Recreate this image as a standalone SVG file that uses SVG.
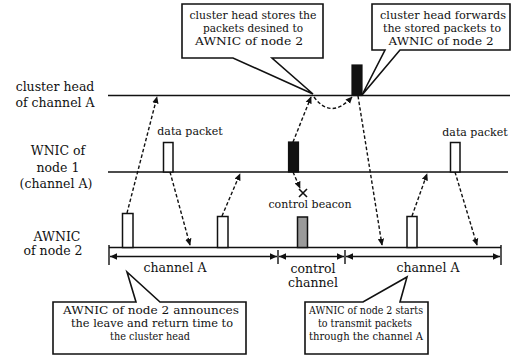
<svg xmlns="http://www.w3.org/2000/svg" width="519" height="358" viewBox="0 0 519 358">
<style>
text{font-family:"DejaVu Serif","Liberation Serif",serif;fill:#111}
.lab{font-size:12.5px;text-anchor:middle}
.cal{font-size:11px;text-anchor:middle}
.sm{font-size:11px;text-anchor:middle}
.axis{stroke:#111;stroke-width:1.6;fill:none}
.dash{stroke:#111;stroke-width:1.4;stroke-dasharray:3.5 2.2;fill:none}
.pk{fill:#fff;stroke:#111;stroke-width:1.5}
.pkb{fill:#111;stroke:#111;stroke-width:1.2}
.box{fill:#fff;stroke:#111;stroke-width:1.6}
.tl{stroke:#111;stroke-width:1.4;fill:none}
</style>
<defs>
<marker id="ah" viewBox="0 0 10 10" refX="9" refY="5" markerWidth="7" markerHeight="7" markerUnits="userSpaceOnUse" orient="auto">
<path d="M0,0.5 L10,5 L0,9.5 z" fill="#111"/>
</marker>
<marker id="ah2" viewBox="0 0 10 10" refX="10" refY="5" markerWidth="8" markerHeight="7" markerUnits="userSpaceOnUse" orient="auto-start-reverse">
<path d="M0,0.5 L10,5 L0,9.5 z" fill="#111"/>
</marker>
</defs>

<g id="labels">
<text class="lab" x="55" y="91">cluster head</text>
<text class="lab" x="55" y="107">of channel A</text>
<text class="lab" x="58" y="155">WNIC of</text>
<text class="lab" x="58" y="172">node 1</text>
<text class="lab" x="56" y="188">(channel A)</text>
<text class="lab" x="57" y="241">AWNIC</text>
<text class="lab" x="53" y="255">of node 2</text>
</g>

<g id="axes">
<line class="axis" x1="108" y1="95.5" x2="510" y2="95.5"/>
<line class="axis" x1="108" y1="172" x2="508" y2="172"/>
<line class="axis" x1="109" y1="247.5" x2="501" y2="247.5"/>
</g>

<g id="timeline">
<line class="tl" x1="109" y1="245" x2="109" y2="265"/>
<line class="tl" x1="278" y1="250" x2="278" y2="264"/>
<line class="tl" x1="345" y1="250" x2="345" y2="264"/>
<line class="tl" x1="501" y1="245" x2="501" y2="265"/>
<line class="tl" x1="110" y1="256.5" x2="277" y2="256.5" marker-start="url(#ah2)" marker-end="url(#ah2)"/>
<line class="tl" x1="279" y1="256.5" x2="344" y2="256.5" marker-start="url(#ah2)" marker-end="url(#ah2)"/>
<line class="tl" x1="346" y1="256.5" x2="500" y2="256.5" marker-start="url(#ah2)" marker-end="url(#ah2)"/>
<text class="lab" x="175" y="272">channel A</text>
<text class="lab" x="313" y="273">control</text>
<text class="lab" x="313" y="287">channel</text>
<text class="lab" x="428" y="272">channel A</text>
</g>

<g id="packets">
<rect class="pkb" x="352" y="65" width="10" height="30.5"/>
<rect class="pk" x="163.5" y="142.5" width="9.5" height="29.5"/>
<rect class="pkb" x="288.5" y="142" width="10" height="30"/>
<rect class="pk" x="450.5" y="142.5" width="9.5" height="29.5"/>
<rect class="pk" x="122.5" y="213.5" width="10.5" height="34"/>
<rect class="pk" x="217.5" y="216.5" width="10.5" height="31"/>
<rect x="297.5" y="217" width="10" height="30.5" fill="#9a9a9a" stroke="#111" stroke-width="1.5"/>
<rect class="pk" x="407" y="216.5" width="10" height="31"/>
<text class="sm" x="190" y="135">data packet</text>
<text class="sm" x="475" y="136">data packet</text>
<text class="sm" x="310" y="208">control beacon</text>
<path d="M299,189 L307,197 M307,189 L299,197" stroke="#111" stroke-width="1.6"/>
</g>

<g id="connectors">
<line class="dash" x1="127" y1="213" x2="157" y2="97" marker-end="url(#ah)"/>
<line class="dash" x1="170" y1="172" x2="190" y2="245" marker-end="url(#ah)"/>
<line class="dash" x1="222" y1="216" x2="240" y2="174" marker-end="url(#ah)"/>
<line class="dash" x1="293" y1="142" x2="311" y2="97" marker-end="url(#ah)"/>
<line class="dash" x1="293" y1="172" x2="300" y2="188" marker-end="url(#ah)"/>
<path class="dash" d="M314,97 Q331,120 352,97" marker-end="url(#ah)"/>
<line class="dash" x1="358" y1="96" x2="382" y2="245" marker-end="url(#ah)"/>
<line class="dash" x1="412" y1="216" x2="427" y2="174" marker-end="url(#ah)"/>
<line class="dash" x1="455" y1="172" x2="477" y2="245" marker-end="url(#ah)"/>
</g>

<g id="callout-stores">
<path class="box" d="M182,4 H323 V58 H272 L313,94 L233,58 H182 Z"/>
<text class="cal" x="253" y="19" textLength="127" lengthAdjust="spacingAndGlyphs">cluster head stores the</text>
<text class="cal" x="253" y="32" textLength="100" lengthAdjust="spacingAndGlyphs">packets desined to</text>
<text class="cal" x="249" y="45" textLength="108" lengthAdjust="spacingAndGlyphs">AWNIC of node 2</text>
</g>

<g id="callout-forwards">
<path class="box" d="M372,4 H510 V50 H400 L362,95 L385,50 H372 Z"/>
<text class="cal" x="443" y="19" textLength="126" lengthAdjust="spacingAndGlyphs">cluster head forwards</text>
<text class="cal" x="442" y="32" textLength="118" lengthAdjust="spacingAndGlyphs">the stored packets to</text>
<text class="cal" x="441" y="45" textLength="105" lengthAdjust="spacingAndGlyphs">AWNIC of node 2</text>
</g>

<g id="callout-announces">
<path class="box" d="M53,302 H136 L127,272 L160,302 H246 V354 H53 Z"/>
<text class="cal" x="151" y="314" textLength="176" lengthAdjust="spacingAndGlyphs">AWNIC of node 2 announces</text>
<text class="cal" x="152" y="327" textLength="162" lengthAdjust="spacingAndGlyphs">the leave and return time to</text>
<text class="cal" x="150" y="340" textLength="80" lengthAdjust="spacingAndGlyphs">the cluster head</text>
</g>

<g id="callout-starts">
<path class="box" d="M305,302 H363 L407,277 L400,302 H428 V354 H305 Z"/>
<text class="cal" x="366" y="314" textLength="114" lengthAdjust="spacingAndGlyphs">AWNIC of node 2 starts</text>
<text class="cal" x="365" y="327" textLength="94" lengthAdjust="spacingAndGlyphs">to transmit packets</text>
<text class="cal" x="366" y="340" textLength="114" lengthAdjust="spacingAndGlyphs">through the channel A</text>
</g>
</svg>
